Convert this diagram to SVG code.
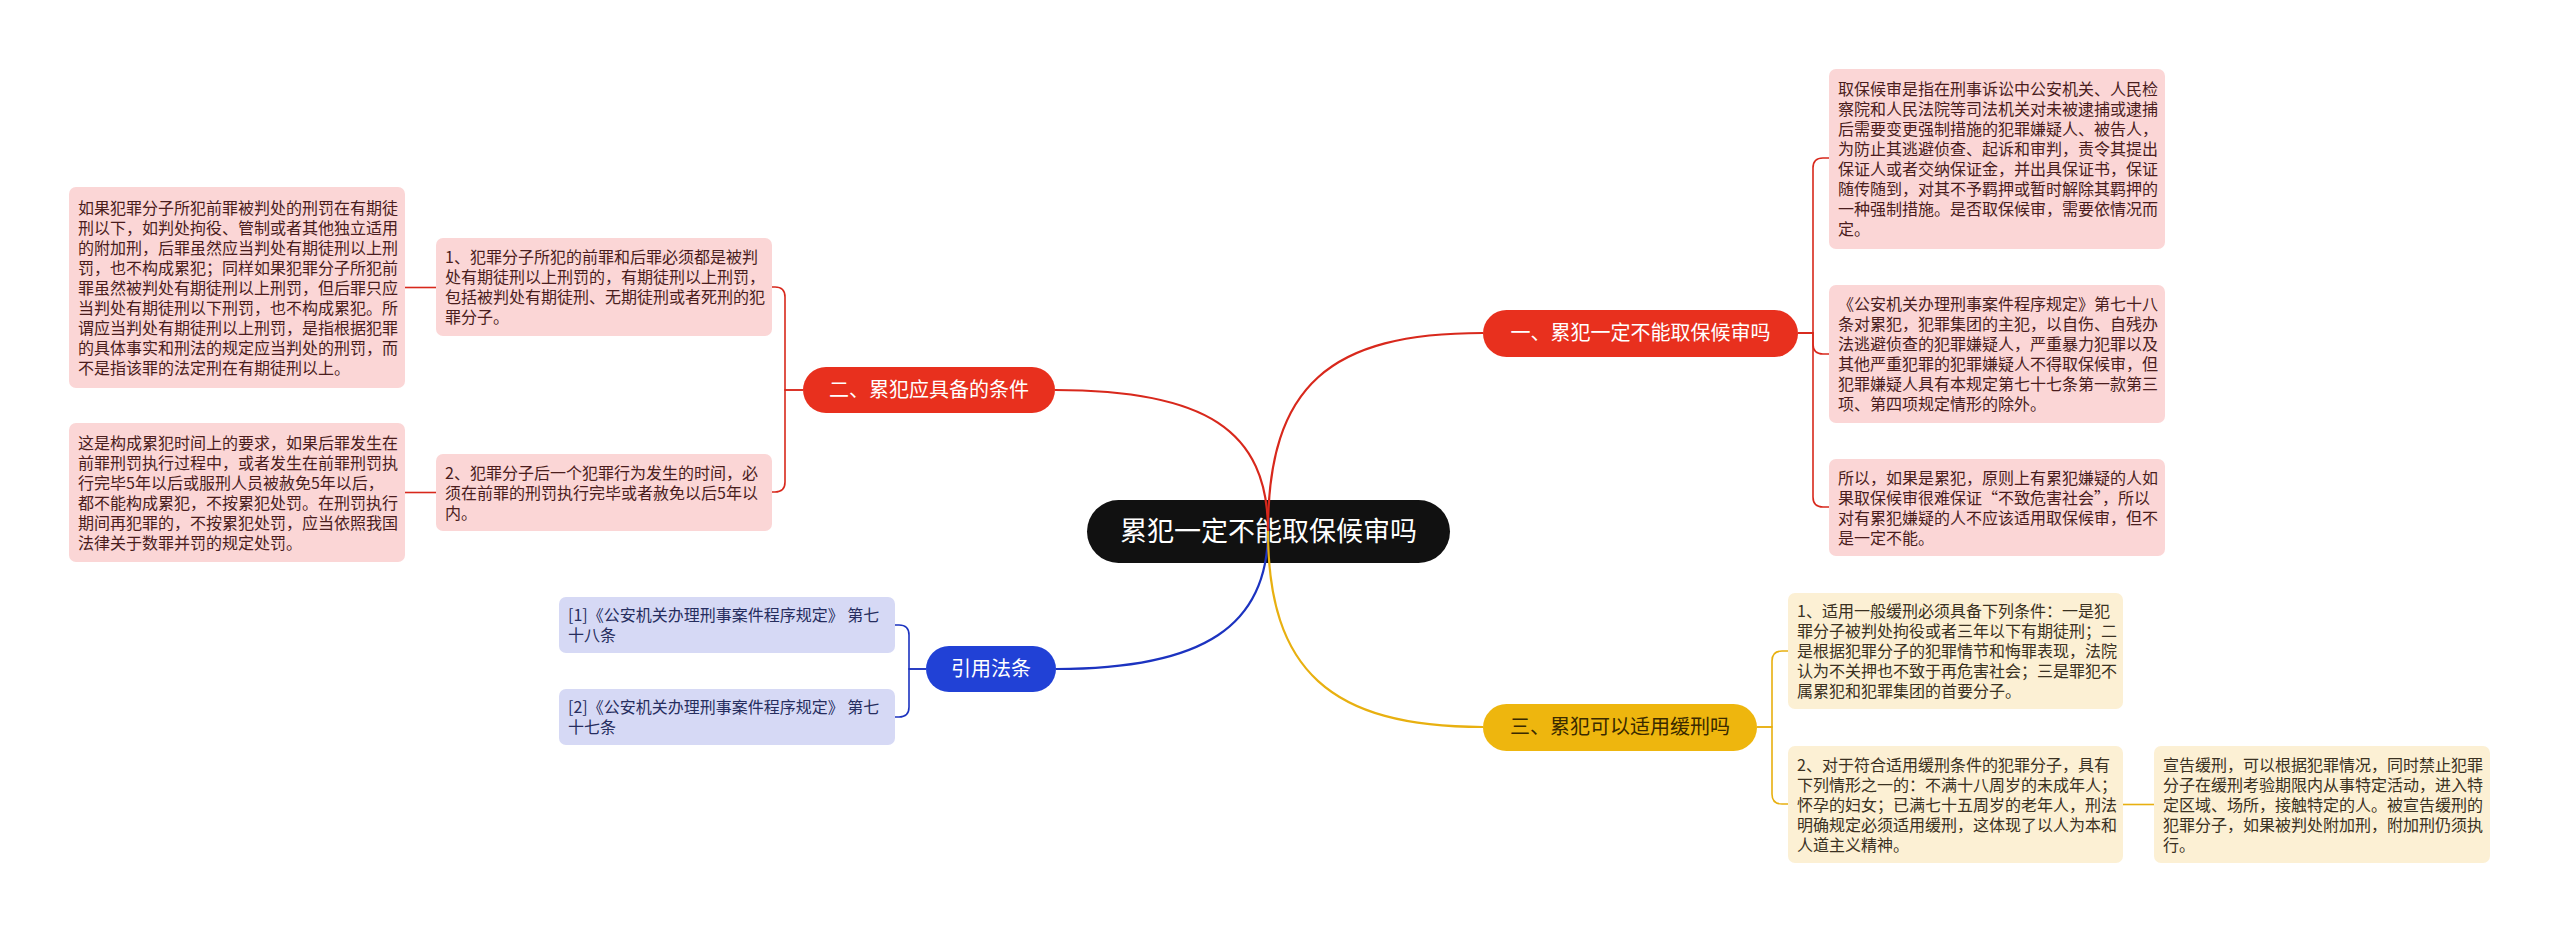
<svg xmlns="http://www.w3.org/2000/svg" width="2560" height="933" viewBox="0 0 2560 933">
<style>
text{font-family:"Noto Sans CJK SC","Noto Sans",sans-serif}
.lf{font-size:16px}
.lr rect{fill:#fbd6d6}
.lr text{fill:#4a1d1d}
.ly rect{fill:#fcf0d4}
.ly text{fill:#3a3122}
.lb rect{fill:#d6d9f5}
.lb text{fill:#262d5e}
.br{font-size:20px}
.cr{fill:none;stroke:#d8281c;stroke-width:2.2}
.cy{fill:none;stroke:#e8b010;stroke-width:2.2}
.cb{fill:none;stroke:#1c33c0;stroke-width:2.2}
.cr2{fill:none;stroke:#d8281c;stroke-width:1.6}
.cy2{fill:none;stroke:#e8b010;stroke-width:1.6}
.cb2{fill:none;stroke:#1c33c0;stroke-width:1.6}
</style>
<rect width="2560" height="933" fill="#ffffff"/>

<g id="root">
<rect x="1087" y="500" width="363" height="63" rx="31.5" fill="#111111"/>
<text x="1268.5" y="541" font-size="27" fill="#ffffff" text-anchor="middle">累犯一定不能取保候审吗</text>
</g>

<g id="b1">
<rect x="1483" y="310" width="315" height="47" rx="23.5" fill="#e8301e"/>
<text class="br" x="1640.5" y="340" fill="#ffffff" text-anchor="middle">一、累犯一定不能取保候审吗</text>
</g>
<g id="b2">
<rect x="803" y="367" width="252" height="46" rx="23" fill="#e8301e"/>
<text class="br" x="929" y="397" fill="#ffffff" text-anchor="middle">二、累犯应具备的条件</text>
</g>
<g id="b3">
<rect x="926" y="646" width="130" height="46" rx="23" fill="#2141d6"/>
<text class="br" x="991" y="676" fill="#ffffff" text-anchor="middle">引用法条</text>
</g>
<g id="b4">
<rect x="1483" y="704" width="274" height="47" rx="23.5" fill="#eeb60e"/>
<text class="br" x="1620" y="734" fill="#3a2a00" text-anchor="middle">三、累犯可以适用缓刑吗</text>
</g>

<g id="l1a" class="lr lf">
<rect x="1829" y="69" width="336" height="180" rx="7"/>
<text x="1838" y="95"><tspan x="1838">取保候审是指在刑事诉讼中公安机关、人民检</tspan><tspan x="1838" dy="20">察院和人民法院等司法机关对未被逮捕或逮捕</tspan><tspan x="1838" dy="20">后需要变更强制措施的犯罪嫌疑人、被告人，</tspan><tspan x="1838" dy="20">为防止其逃避侦查、起诉和审判，责令其提出</tspan><tspan x="1838" dy="20">保证人或者交纳保证金，并出具保证书，保证</tspan><tspan x="1838" dy="20">随传随到，对其不予羁押或暂时解除其羁押的</tspan><tspan x="1838" dy="20">一种强制措施。是否取保候审，需要依情况而</tspan><tspan x="1838" dy="20">定。</tspan></text>
</g>
<g id="l1b" class="lr lf">
<rect x="1829" y="285" width="336" height="138" rx="7"/>
<text x="1838" y="310"><tspan x="1838">《公安机关办理刑事案件程序规定》第七十八</tspan><tspan x="1838" dy="20">条对累犯，犯罪集团的主犯，以自伤、自残办</tspan><tspan x="1838" dy="20">法逃避侦查的犯罪嫌疑人，严重暴力犯罪以及</tspan><tspan x="1838" dy="20">其他严重犯罪的犯罪嫌疑人不得取保候审，但</tspan><tspan x="1838" dy="20">犯罪嫌疑人具有本规定第七十七条第一款第三</tspan><tspan x="1838" dy="20">项、第四项规定情形的除外。</tspan></text>
</g>
<g id="l1c" class="lr lf">
<rect x="1829" y="459" width="336" height="97" rx="7"/>
<text x="1838" y="483.5"><tspan x="1838">所以，如果是累犯，原则上有累犯嫌疑的人如</tspan><tspan x="1838" dy="20">果取保候审很难保证“不致危害社会”，所以</tspan><tspan x="1838" dy="20">对有累犯嫌疑的人不应该适用取保候审，但不</tspan><tspan x="1838" dy="20">是一定不能。</tspan></text>
</g>

<g id="l2a" class="lr lf">
<rect x="436" y="238" width="336" height="98" rx="7"/>
<text x="445" y="263"><tspan x="445">1、犯罪分子所犯的前罪和后罪必须都是被判</tspan><tspan x="445" dy="20">处有期徒刑以上刑罚的，有期徒刑以上刑罚，</tspan><tspan x="445" dy="20">包括被判处有期徒刑、无期徒刑或者死刑的犯</tspan><tspan x="445" dy="20">罪分子。</tspan></text>
</g>
<g id="l2a1" class="lr lf">
<rect x="69" y="187" width="336" height="201" rx="7"/>
<text x="78" y="213.5"><tspan x="78">如果犯罪分子所犯前罪被判处的刑罚在有期徒</tspan><tspan x="78" dy="20">刑以下，如判处拘役、管制或者其他独立适用</tspan><tspan x="78" dy="20">的附加刑，后罪虽然应当判处有期徒刑以上刑</tspan><tspan x="78" dy="20">罚，也不构成累犯；同样如果犯罪分子所犯前</tspan><tspan x="78" dy="20">罪虽然被判处有期徒刑以上刑罚，但后罪只应</tspan><tspan x="78" dy="20">当判处有期徒刑以下刑罚，也不构成累犯。所</tspan><tspan x="78" dy="20">谓应当判处有期徒刑以上刑罚，是指根据犯罪</tspan><tspan x="78" dy="20">的具体事实和刑法的规定应当判处的刑罚，而</tspan><tspan x="78" dy="20">不是指该罪的法定刑在有期徒刑以上。</tspan></text>
</g>
<g id="l2b" class="lr lf">
<rect x="436" y="454" width="336" height="77" rx="7"/>
<text x="445" y="478.5"><tspan x="445">2、犯罪分子后一个犯罪行为发生的时间，必</tspan><tspan x="445" dy="20">须在前罪的刑罚执行完毕或者赦免以后5年以</tspan><tspan x="445" dy="20">内。</tspan></text>
</g>
<g id="l2b1" class="lr lf">
<rect x="69" y="423" width="336" height="139" rx="7"/>
<text x="78" y="448.5"><tspan x="78">这是构成累犯时间上的要求，如果后罪发生在</tspan><tspan x="78" dy="20">前罪刑罚执行过程中，或者发生在前罪刑罚执</tspan><tspan x="78" dy="20">行完毕5年以后或服刑人员被赦免5年以后，</tspan><tspan x="78" dy="20">都不能构成累犯，不按累犯处罚。在刑罚执行</tspan><tspan x="78" dy="20">期间再犯罪的，不按累犯处罚，应当依照我国</tspan><tspan x="78" dy="20">法律关于数罪并罚的规定处罚。</tspan></text>
</g>

<g id="l3a" class="lb lf">
<rect x="559" y="597" width="336" height="56" rx="7"/>
<text x="568" y="621"><tspan x="568">[1]《公安机关办理刑事案件程序规定》 第七</tspan><tspan x="568" dy="20">十八条</tspan></text>
</g>
<g id="l3b" class="lb lf">
<rect x="559" y="689" width="336" height="56" rx="7"/>
<text x="568" y="713"><tspan x="568">[2]《公安机关办理刑事案件程序规定》 第七</tspan><tspan x="568" dy="20">十七条</tspan></text>
</g>

<g id="l4a" class="ly lf">
<rect x="1788" y="593" width="335" height="116" rx="7"/>
<text x="1797" y="617"><tspan x="1797">1、适用一般缓刑必须具备下列条件：一是犯</tspan><tspan x="1797" dy="20">罪分子被判处拘役或者三年以下有期徒刑；二</tspan><tspan x="1797" dy="20">是根据犯罪分子的犯罪情节和悔罪表现，法院</tspan><tspan x="1797" dy="20">认为不关押也不致于再危害社会；三是罪犯不</tspan><tspan x="1797" dy="20">属累犯和犯罪集团的首要分子。</tspan></text>
</g>
<g id="l4b" class="ly lf">
<rect x="1788" y="746" width="335" height="117" rx="7"/>
<text x="1797" y="770.5"><tspan x="1797">2、对于符合适用缓刑条件的犯罪分子，具有</tspan><tspan x="1797" dy="20">下列情形之一的：不满十八周岁的未成年人；</tspan><tspan x="1797" dy="20">怀孕的妇女；已满七十五周岁的老年人，刑法</tspan><tspan x="1797" dy="20">明确规定必须适用缓刑，这体现了以人为本和</tspan><tspan x="1797" dy="20">人道主义精神。</tspan></text>
</g>
<g id="l4b1" class="ly lf">
<rect x="2154" y="746" width="336" height="117" rx="7"/>
<text x="2163" y="770.5"><tspan x="2163">宣告缓刑，可以根据犯罪情况，同时禁止犯罪</tspan><tspan x="2163" dy="20">分子在缓刑考验期限内从事特定活动，进入特</tspan><tspan x="2163" dy="20">定区域、场所，接触特定的人。被宣告缓刑的</tspan><tspan x="2163" dy="20">犯罪分子，如果被判处附加刑，附加刑仍须执</tspan><tspan x="2163" dy="20">行。</tspan></text>
</g>

<g id="connectors">
<path class="cr" d="M1268,531 C1268,385 1330,333 1483,333"/>
<path class="cr" d="M1268,531 C1268,430 1205,390 1055,390"/>
<path class="cb" d="M1268,531 C1268,625 1205,669 1056,669"/>
<path class="cy" d="M1268,531 C1268,670 1330,727 1483,727"/>

<path class="cr2" d="M1798,333 H1813 V168 Q1813,158 1823,158 H1829"/>
<path class="cr2" d="M1798,333 H1813 V344 Q1813,354 1823,354 H1829"/>
<path class="cr2" d="M1798,333 H1813 V497 Q1813,507 1823,507 H1829"/>

<path class="cr2" d="M803,390 H785 V297 Q785,287 775,287 H772"/>
<path class="cr2" d="M803,390 H785 V482 Q785,492 775,492 H772"/>
<path class="cr2" d="M436,287.5 H405"/>
<path class="cr2" d="M436,492.5 H405"/>

<path class="cb2" d="M926,669 H909 V635 Q909,625 899,625 H895"/>
<path class="cb2" d="M926,669 H909 V707 Q909,717 899,717 H895"/>

<path class="cy2" d="M1757,727 H1772 V661 Q1772,651 1782,651 H1788"/>
<path class="cy2" d="M1757,727 H1772 V794 Q1772,804 1782,804 H1788"/>
<path class="cy2" d="M2123,804.5 H2154"/>
</g>
</svg>
